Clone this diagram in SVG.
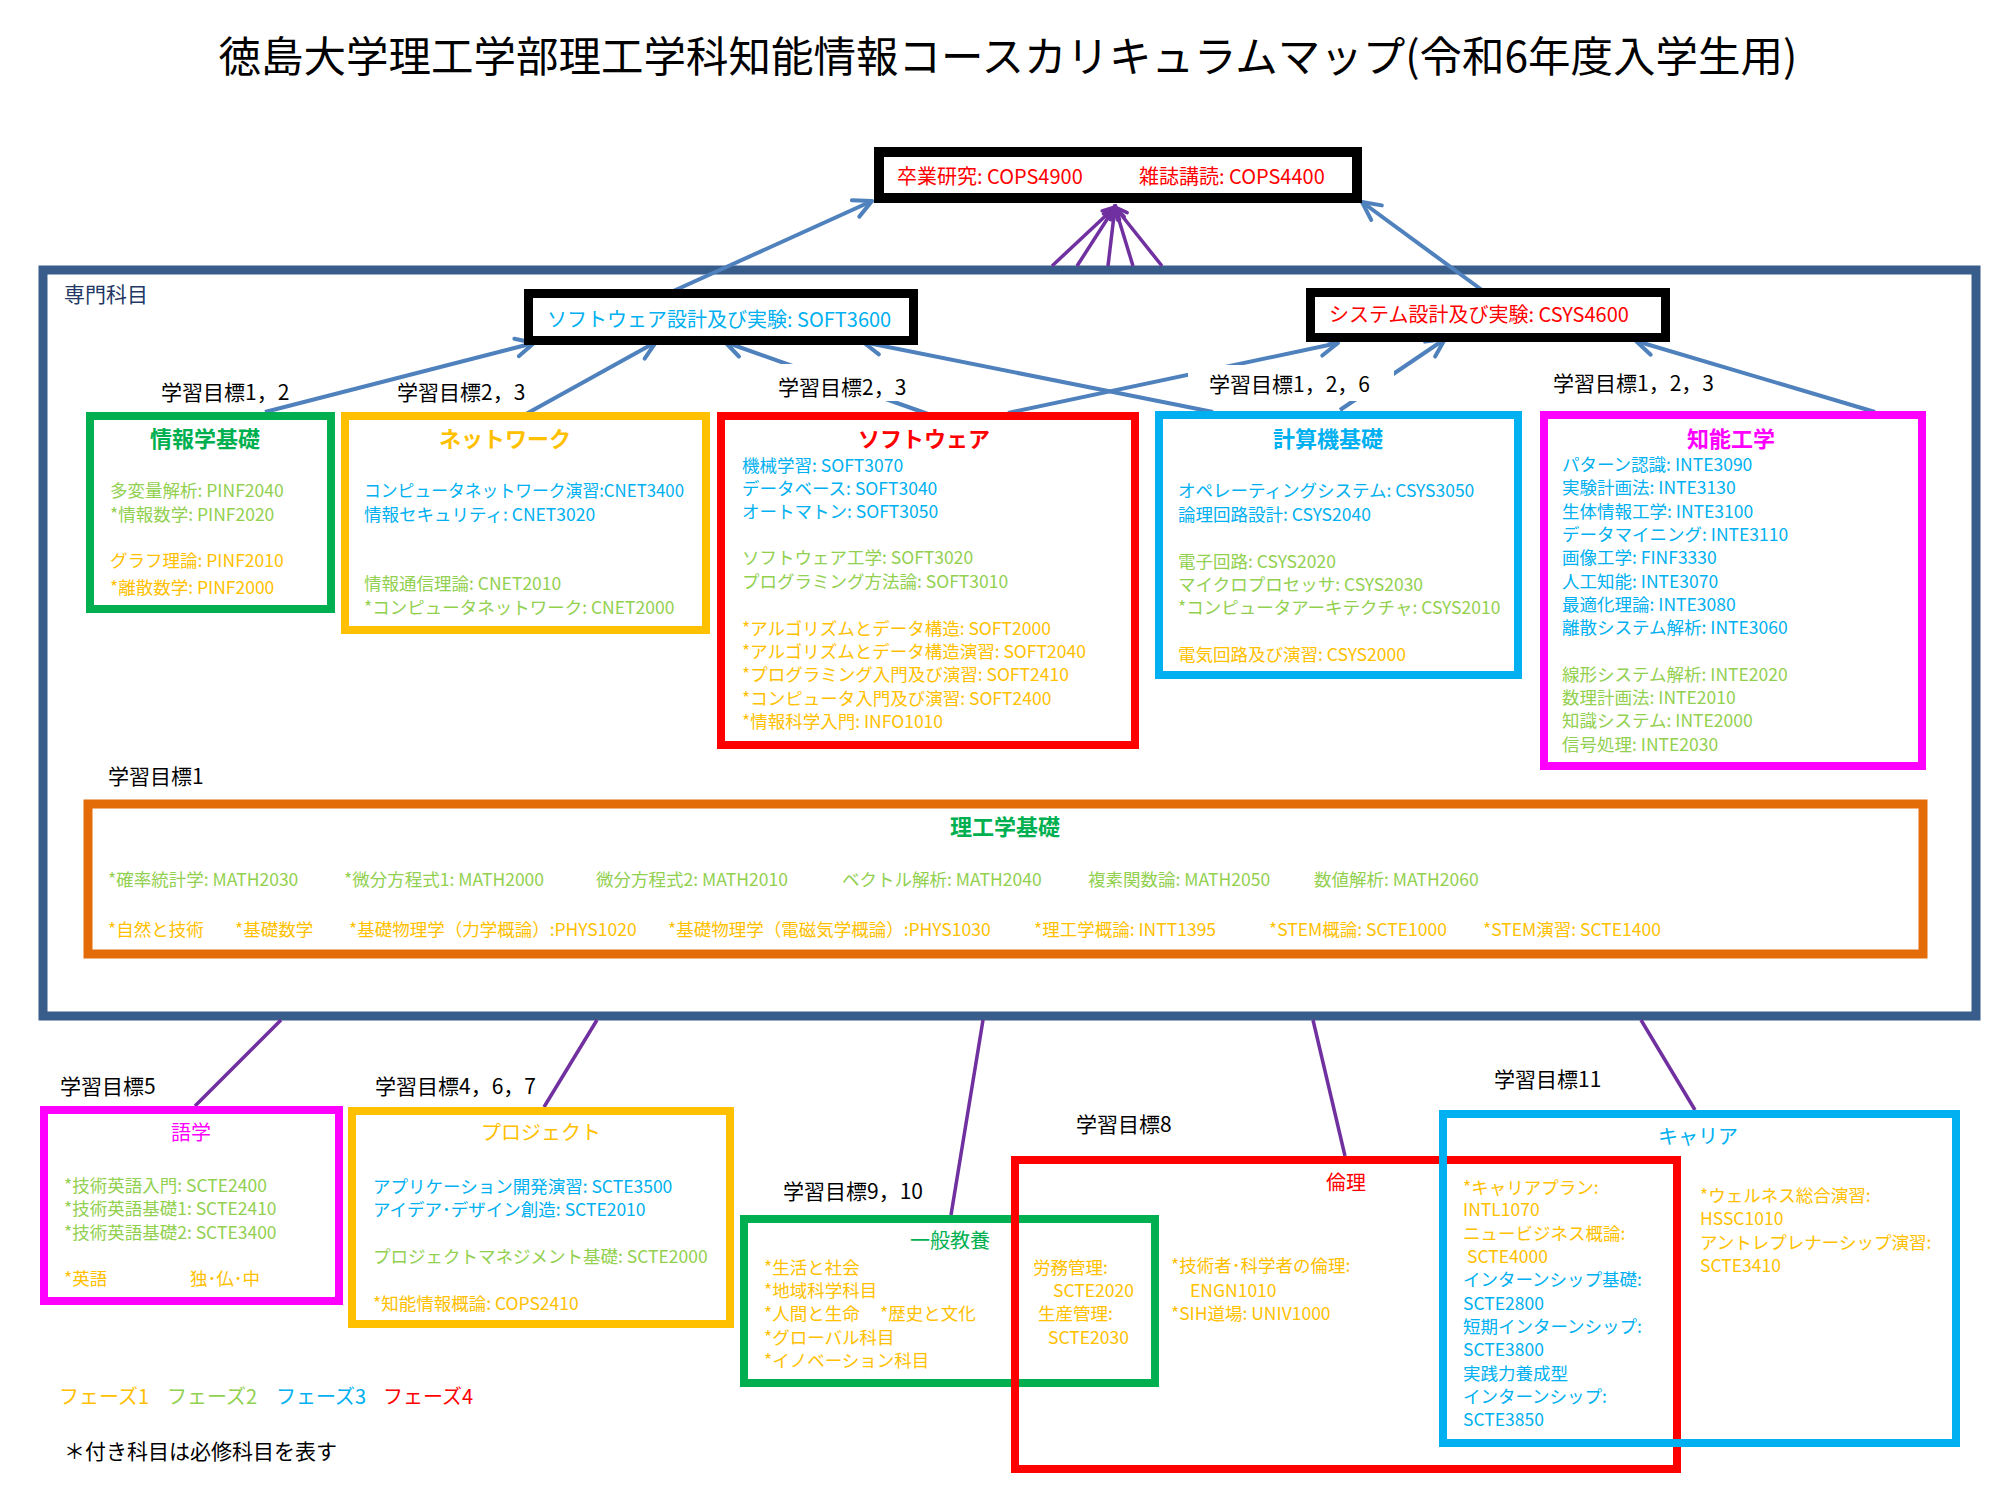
<svg xmlns="http://www.w3.org/2000/svg" width="2000" height="1500" viewBox="0 0 2000 1500">
<defs>
<style>
text{font-family:"Noto Sans CJK JP","Noto Sans",sans-serif;}
.ttl{font-size:42.5px;fill:#000;}
.lbl{font-size:21px;fill:#000;}
.it{font-size:17.5px;}
.hd{font-size:22px;font-weight:bold;text-anchor:middle;}
.hl{font-size:20px;text-anchor:middle;}
.big{font-size:20px;}
.b{fill:#00B0F0;}
.g{fill:#92D050;}
.o{fill:#FFC000;}
.r{fill:#FF0000;}
.m{fill:#FF00FF;}
.box{fill:none;stroke-width:8;}
.con{fill:none;stroke:#4F81BD;stroke-width:4;marker-end:url(#ab);}
.pu{fill:none;stroke:#7030A0;stroke-width:3.5;}
.pua{fill:none;stroke:#7030A0;stroke-width:3.5;marker-end:url(#ap);}
</style>
<marker id="ab" markerUnits="userSpaceOnUse" markerWidth="26" markerHeight="26" viewBox="0 0 26 26" refX="22" refY="13" orient="auto">
<path d="M4,4 L22,13 L4,22" fill="none" stroke="#4F81BD" stroke-width="4" stroke-linecap="round" stroke-linejoin="round"/>
</marker>
<marker id="ap" markerUnits="userSpaceOnUse" markerWidth="18" markerHeight="18" viewBox="0 0 18 18" refX="15" refY="9" orient="auto">
<path d="M3,3 L15,9 L3,15" fill="none" stroke="#7030A0" stroke-width="3.5" stroke-linecap="round"/>
</marker>
</defs>
<rect width="2000" height="1500" fill="#fff"/>

<text class="ttl" x="1008" y="72" text-anchor="middle">徳島大学理工学部理工学科知能情報コースカリキュラムマップ(令和6年度入学生用)</text>

<g id="container">
<rect x="43" y="270" width="1933" height="746" fill="none" stroke="#385D8A" stroke-width="9"/>
<text x="64" y="302" style="font-size:21px;fill:#1F3864">専門科目</text>
</g>

<g id="connectors">
<path class="pua" d="M1052,266 L1115,207"/>
<path class="pua" d="M1077,266 L1115,207"/>
<path class="pua" d="M1108,266 L1115,207"/>
<path class="pua" d="M1133,266 L1115,207"/>
<path class="pua" d="M1162,266 L1115,207"/>
<path class="con" d="M669,293 L872,201"/>
<path class="con" d="M1486,293 L1362,202"/>
<path class="con" d="M265,412 L534,343"/>
<path class="con" d="M526,414 L656,342"/>
<path class="con" d="M928,414 L725,342"/>
<path class="con" d="M1213,412 L863,342"/>
<path class="con" d="M1008,413 L1338,343"/>
<path class="con" d="M1340,410 L1445,339"/>
<path class="con" d="M1875,412 L1636,341"/>
<path class="pu" d="M281,1020 L195,1106"/>
<path class="pu" d="M597,1020 L544,1107"/>
<path class="pu" d="M983,1020 L951,1215"/>
<path class="pu" d="M1313,1020 L1345,1156"/>
<path class="pu" d="M1641,1020 L1695,1110"/>
</g>

<g id="labels">
<text class="lbl" x="161" y="400">学習目標1，2</text>
<text class="lbl" x="397" y="400">学習目標2，3</text>
<rect x="780" y="364" width="135" height="37" fill="#fff"/>
<text class="lbl" x="778" y="395">学習目標2，3</text>
<rect x="1188" y="365" width="206" height="36" fill="#fff"/>
<text class="lbl" x="1209" y="392">学習目標1，2，6</text>
<text class="lbl" x="1553" y="391">学習目標1，2，3</text>
<text class="lbl" x="108" y="784">学習目標1</text>
<text class="lbl" x="60" y="1094">学習目標5</text>
<text class="lbl" x="375" y="1094">学習目標4，6，7</text>
<text class="lbl" x="783" y="1199">学習目標9，10</text>
<text class="lbl" x="1076" y="1132">学習目標8</text>
<text class="lbl" x="1494" y="1087">学習目標11</text>
</g>

<g id="graduation">
<rect x="879" y="152" width="478" height="46" fill="#fff" stroke="#000" stroke-width="10"/>
<text class="big r" x="897" y="184">卒業研究: COPS4900</text>
<text class="big r" x="1139" y="184">雑誌講読: COPS4400</text>
</g>

<g id="soft3600">
<rect x="528.5" y="293.5" width="385" height="47" fill="#fff" stroke="#000" stroke-width="9"/>
<text class="big b" x="547" y="327">ソフトウェア設計及び実験: SOFT3600</text>
</g>

<g id="csys4600">
<rect x="1310.5" y="292.5" width="355" height="45" fill="#fff" stroke="#000" stroke-width="9"/>
<text class="big r" x="1329" y="322">システム設計及び実験: CSYS4600</text>
</g>

<g id="joho">
<rect class="box" x="90" y="416" width="241" height="193" stroke="#00B050"/>
<text class="hd" x="205" y="447" fill="#00B050">情報学基礎</text>
<text class="it g" x="110" y="497">多変量解析: PINF2040</text>
<text class="it g" x="110" y="521">*情報数学: PINF2020</text>
<text class="it o" x="110" y="567">グラフ理論: PINF2010</text>
<text class="it o" x="110" y="594">*離散数学: PINF2000</text>
</g>

<g id="network">
<rect class="box" x="345" y="416" width="361" height="214" stroke="#FFC000"/>
<text class="hd o" x="505" y="447">ネットワーク</text>
<text class="it b" x="364" y="497" textLength="320" lengthAdjust="spacingAndGlyphs">コンピュータネットワーク演習:CNET3400</text>
<text class="it b" x="364" y="521">情報セキュリティ: CNET3020</text>
<text class="it g" x="364" y="590">情報通信理論: CNET2010</text>
<text class="it g" x="364" y="614">*コンピュータネットワーク: CNET2000</text>
</g>

<g id="software">
<rect class="box" x="721" y="416" width="414" height="329" stroke="#FF0000"/>
<text class="hd r" x="924" y="447">ソフトウェア</text>
<text class="it b" x="742" y="472">機械学習: SOFT3070</text>
<text class="it b" x="742" y="495">データベース: SOFT3040</text>
<text class="it b" x="742" y="518">オートマトン: SOFT3050</text>
<text class="it g" x="742" y="564">ソフトウェア工学: SOFT3020</text>
<text class="it g" x="742" y="588">プログラミング方法論: SOFT3010</text>
<text class="it o" x="742" y="635">*アルゴリズムとデータ構造: SOFT2000</text>
<text class="it o" x="742" y="658">*アルゴリズムとデータ構造演習: SOFT2040</text>
<text class="it o" x="742" y="681">*プログラミング入門及び演習: SOFT2410</text>
<text class="it o" x="742" y="705">*コンピュータ入門及び演習: SOFT2400</text>
<text class="it o" x="742" y="728">*情報科学入門: INFO1010</text>
</g>

<g id="computer">
<rect class="box" x="1159" y="415" width="359" height="260" stroke="#00B0F0"/>
<text class="hd b" x="1328" y="447">計算機基礎</text>
<text class="it b" x="1178" y="497">オペレーティングシステム: CSYS3050</text>
<text class="it b" x="1178" y="521">論理回路設計: CSYS2040</text>
<text class="it g" x="1178" y="568">電子回路: CSYS2020</text>
<text class="it g" x="1178" y="591">マイクロプロセッサ: CSYS2030</text>
<text class="it g" x="1178" y="614">*コンピュータアーキテクチャ: CSYS2010</text>
<text class="it o" x="1178" y="661">電気回路及び演習: CSYS2000</text>
</g>

<g id="intelligence">
<rect class="box" x="1544" y="415" width="378" height="351" stroke="#FF00FF"/>
<text class="hd m" x="1731" y="447">知能工学</text>
<text class="it b" x="1562" y="471">パターン認識: INTE3090</text>
<text class="it b" x="1562" y="494">実験計画法: INTE3130</text>
<text class="it b" x="1562" y="518">生体情報工学: INTE3100</text>
<text class="it b" x="1562" y="541">データマイニング: INTE3110</text>
<text class="it b" x="1562" y="564">画像工学: FINF3330</text>
<text class="it b" x="1562" y="588">人工知能: INTE3070</text>
<text class="it b" x="1562" y="611">最適化理論: INTE3080</text>
<text class="it b" x="1562" y="634">離散システム解析: INTE3060</text>
<text class="it g" x="1562" y="681">線形システム解析: INTE2020</text>
<text class="it g" x="1562" y="704">数理計画法: INTE2010</text>
<text class="it g" x="1562" y="727">知識システム: INTE2000</text>
<text class="it g" x="1562" y="751">信号処理: INTE2030</text>
</g>

<g id="science">
<rect x="88" y="804" width="1835" height="150" fill="none" stroke="#E36C09" stroke-width="9"/>
<text class="hd" x="1005" y="835" fill="#00B050">理工学基礎</text>
<text class="it g" x="108" y="886">*確率統計学: MATH2030</text>
<text class="it g" x="344" y="886">*微分方程式1: MATH2000</text>
<text class="it g" x="596" y="886">微分方程式2: MATH2010</text>
<text class="it g" x="842" y="886">ベクトル解析: MATH2040</text>
<text class="it g" x="1088" y="886">複素関数論: MATH2050</text>
<text class="it g" x="1314" y="886">数値解析: MATH2060</text>
<text class="it o" x="108" y="936">*自然と技術</text>
<text class="it o" x="235" y="936">*基礎数学</text>
<text class="it o" x="349" y="936">*基礎物理学（力学概論）:PHYS1020</text>
<text class="it o" x="668" y="936">*基礎物理学（電磁気学概論）:PHYS1030</text>
<text class="it o" x="1034" y="936">*理工学概論: INTT1395</text>
<text class="it o" x="1269" y="936">*STEM概論: SCTE1000</text>
<text class="it o" x="1483" y="936">*STEM演習: SCTE1400</text>
</g>

<g id="language">
<rect class="box" x="44" y="1110" width="295" height="191" stroke="#FF00FF"/>
<text class="hl m" x="191" y="1140">語学</text>
<text class="it g" x="64" y="1192">*技術英語入門: SCTE2400</text>
<text class="it g" x="64" y="1215">*技術英語基礎1: SCTE2410</text>
<text class="it g" x="64" y="1239">*技術英語基礎2: SCTE3400</text>
<text class="it o" x="64" y="1285">*英語</text>
<text class="it o" x="190" y="1285">独･仏･中</text>
</g>

<g id="project">
<rect class="box" x="352" y="1111" width="378" height="213" stroke="#FFC000"/>
<text class="hl o" x="541" y="1140">プロジェクト</text>
<text class="it b" x="373" y="1193">アプリケーション開発演習: SCTE3500</text>
<text class="it b" x="373" y="1216">アイデア･デザイン創造: SCTE2010</text>
<text class="it g" x="373" y="1263">プロジェクトマネジメント基礎: SCTE2000</text>
<text class="it o" x="373" y="1310">*知能情報概論: COPS2410</text>
</g>

<g id="general">
<rect class="box" x="744" y="1219" width="411" height="164" stroke="#00B050"/>
<text class="hl" x="950" y="1248" fill="#00B050">一般教養</text>
<text class="it o" x="764" y="1274">*生活と社会</text>
<text class="it o" x="764" y="1297">*地域科学科目</text>
<text class="it o" x="764" y="1320">*人間と生命</text>
<text class="it o" x="880" y="1320">*歴史と文化</text>
<text class="it o" x="764" y="1344">*グローバル科目</text>
<text class="it o" x="764" y="1367">*イノベーション科目</text>
<text class="it o" x="1033" y="1274">労務管理:</text>
<text class="it o" x="1053" y="1297">SCTE2020</text>
<text class="it o" x="1038" y="1320">生産管理:</text>
<text class="it o" x="1048" y="1344">SCTE2030</text>
</g>

<g id="ethics">
<rect class="box" x="1015" y="1160" width="662" height="309" stroke="#FF0000"/>
<text class="hl r" x="1346" y="1190">倫理</text>
<text class="it o" x="1171" y="1272">*技術者･科学者の倫理:</text>
<text class="it o" x="1190" y="1297">ENGN1010</text>
<text class="it o" x="1171" y="1320">*SIH道場: UNIV1000</text>
</g>

<g id="career">
<rect class="box" x="1443" y="1114" width="513" height="329" stroke="#00B0F0"/>
<text class="hl b" x="1698" y="1144">キャリア</text>
<text class="it o" x="1463" y="1194">*キャリアプラン:</text>
<text class="it o" x="1463" y="1216">INTL1070</text>
<text class="it o" x="1463" y="1240">ニュービジネス概論:</text>
<text class="it o" x="1467" y="1263">SCTE4000</text>
<text class="it b" x="1463" y="1286">インターンシップ基礎:</text>
<text class="it b" x="1463" y="1310">SCTE2800</text>
<text class="it b" x="1463" y="1333">短期インターンシップ:</text>
<text class="it b" x="1463" y="1356">SCTE3800</text>
<text class="it b" x="1463" y="1380">実践力養成型</text>
<text class="it b" x="1463" y="1403">インターンシップ:</text>
<text class="it b" x="1463" y="1426">SCTE3850</text>
<text class="it o" x="1700" y="1202">*ウェルネス総合演習:</text>
<text class="it o" x="1700" y="1225">HSSC1010</text>
<text class="it o" x="1700" y="1249">アントレプレナーシップ演習:</text>
<text class="it o" x="1700" y="1272">SCTE3410</text>
</g>

<g id="legend">
<text class="big o" x="59" y="1404">フェーズ1</text>
<text class="big g" x="167" y="1404">フェーズ2</text>
<text class="big b" x="276" y="1404">フェーズ3</text>
<text class="big r" x="383" y="1404">フェーズ4</text>
<text x="64" y="1459" style="font-size:21px;fill:#000">＊付き科目は必修科目を表す</text>
</g>
</svg>
